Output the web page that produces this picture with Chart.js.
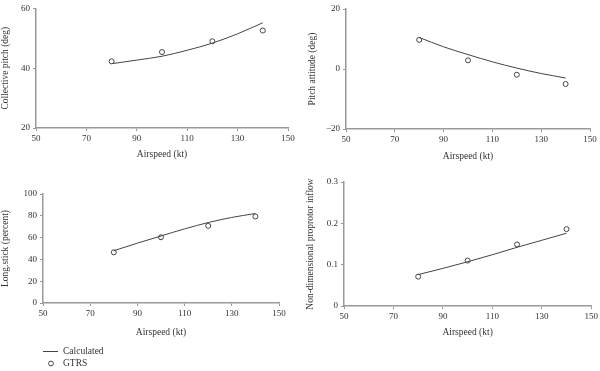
<!DOCTYPE html>
<html>
<head>
<meta charset="utf-8">
<script src="https://cdn.jsdelivr.net/npm/chart.js@4.4.1/dist/chart.umd.min.js"></script>
<style>
    html, body { margin: 0; padding: 0; background: #fff; }
    #page { position: relative; width: 600px; height: 371px; overflow: hidden; font-family: "Liberation Serif", serif; color: #333; }
    canvas { position: absolute; }
    .legend { position: absolute; left: 42px; top: 345px; font-size: 9.5px; line-height: 12px; }
    .legend div { position: relative; padding-left: 21px; white-space: nowrap; }
    .legend svg { position: absolute; left: 0; top: 0; }
</style>
</head>
<body>
<div id="page">
    <canvas id="c1" width="300" height="170" style="left:0;top:0"></canvas>
    <canvas id="c2" width="300" height="170" style="left:300px;top:0"></canvas>
    <canvas id="c3" width="300" height="201" style="left:0;top:170px"></canvas>
    <canvas id="c4" width="300" height="201" style="left:300px;top:170px"></canvas>
    <div class="legend">
        <div><svg width="18" height="12"><line x1="1" y1="6.5" x2="16" y2="6.5" stroke="#444" stroke-width="1"/></svg>Calculated</div>
        <div><svg width="18" height="12"><circle cx="9" cy="6.5" r="2.4" fill="none" stroke="#444" stroke-width="1"/></svg>GTRS</div>
    </div>
</div>
<script>
// Скорости полёта (kt)
const gtrsSpeed = [80, 100, 120, 140];
const calcSpeed = [80, 90, 100, 110, 120, 130, 140];
const xTicks = [50, 70, 90, 110, 130, 150];

// Collective pitch (deg)
const pitchGtrs = [42.3, 45.4, 49.0, 52.6];
const pitchCalc = [41.5, 42.7, 44.0, 46.0, 48.4, 51.5, 55.2];

// Pitch attitude (deg)
const attGtrs = [9.7, 2.9, -1.9, -5.0];
const attCalc = [10.5, 7.4, 4.8, 2.4, 0.3, -1.5, -3.0];

// Long.stick (percent)
const stickGtrs = [46.5, 60.3, 70.8, 79.4];
const stickCalc = [48.0, 54.9, 61.5, 68.0, 73.8, 78.5, 82.1];

// Non-dimensional proprotor inflow
const inflowGtrs = [0.071, 0.110, 0.149, 0.186];
const inflowCalc = [0.076, 0.091, 0.107, 0.124, 0.142, 0.159, 0.176];

Chart.defaults.font.family = '"Liberation Serif", "DejaVu Serif", serif';
Chart.defaults.color = '#333';

const axisColor = '#999';
const markColor = '#444';

function toPoints(xs, ys) {
    return xs.map((x, i) => ({ x: x, y: ys[i] }));
}

function fmt(value) {
    return Number(value.toFixed(2)).toString().replace('-', '\u2212');
}

function makeChart(id, calc, gtrs, p) {
    const ctx = document.getElementById(id).getContext('2d');
    return new Chart(ctx, {
        type: 'line',
        data: {
            datasets: [
                {
                    label: 'GTRS',
                    data: toPoints(gtrsSpeed, gtrs),
                    showLine: false,
                    pointRadius: 2.5,
                    pointBorderWidth: 1,
                    pointBorderColor: markColor,
                    pointBackgroundColor: 'rgba(0,0,0,0)'
                },
                {
                    label: 'Calculated',
                    data: toPoints(calcSpeed, calc),
                    borderColor: markColor,
                    borderWidth: 1,
                    pointRadius: 0,
                    cubicInterpolationMode: 'monotone'
                }
            ]
        },
        options: {
            responsive: false,
            animation: false,
            devicePixelRatio: 1,
            layout: {
                padding: { left: 0, top: p.top, right: p.right, bottom: 0 }
            },
            scales: {
                x: {
                    type: 'linear',
                    min: 50,
                    max: 150,
                    afterBuildTicks: function (scale) {
                        scale.ticks = xTicks.map(v => ({ value: v }));
                    },
                    afterFit: function (scale) {
                        scale.height = p.xHeight;
                    },
                    border: { color: axisColor, width: 1.5 },
                    grid: { drawOnChartArea: false, color: axisColor, tickLength: 3 },
                    ticks: { font: { size: 9 }, padding: 2, maxRotation: 0 },
                    title: {
                        display: true,
                        text: 'Airspeed (kt)',
                        font: { size: 9.5 },
                        padding: { top: 0, bottom: p.xTitlePad }
                    }
                },
                y: {
                    min: p.yMin,
                    max: p.yMax,
                    afterFit: function (scale) {
                        scale.width = p.yWidth;
                    },
                    border: { color: axisColor, width: 1.5 },
                    grid: { drawOnChartArea: false, color: axisColor, tickLength: 3 },
                    ticks: { stepSize: p.yStep, font: { size: 9 }, padding: 3, callback: fmt },
                    title: {
                        display: true,
                        text: p.yTitle,
                        font: { size: 9.5 },
                        padding: { top: p.yTitlePad, bottom: 0 }
                    }
                }
            },
            plugins: {
                legend: { display: false },
                tooltip: { enabled: false }
            }
        }
    });
}

makeChart('c1', pitchCalc, pitchGtrs, {
    yTitle: 'Collective pitch (deg)', yMin: 20, yMax: 60, yStep: 20,
    yWidth: 36, top: 6, right: 12, xHeight: 42, xTitlePad: 10, yTitlePad: 0
});
makeChart('c2', attCalc, attGtrs, {
    yTitle: 'Pitch attitude (deg)', yMin: -20, yMax: 20, yStep: 20,
    yWidth: 46, top: 9, right: 10, xHeight: 41, xTitlePad: 7.5, yTitlePad: 6.5
});
makeChart('c3', stickCalc, stickGtrs, {
    yTitle: 'Long.stick (percent)', yMin: 0, yMax: 100, yStep: 20,
    yWidth: 43, top: 24, right: 21, xHeight: 68, xTitlePad: 32.5, yTitlePad: 0
});
makeChart('c4', inflowCalc, inflowGtrs, {
    yTitle: 'Non-dimensional proprotor inflow', yMin: 0, yMax: 0.3, yStep: 0.1,
    yWidth: 44, top: 12, right: 7, xHeight: 65, xTitlePad: 32.5, yTitlePad: 5
});
</script>
</body>
</html>
